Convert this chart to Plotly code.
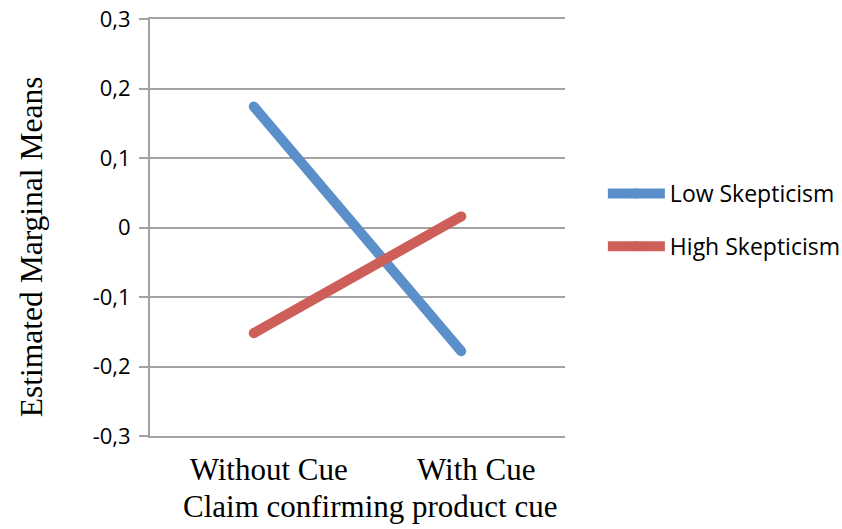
import plotly.graph_objects as go

# Interaction plot: estimated marginal means by cue condition and skepticism level
categories = ["Without Cue", "With Cue"]
low_skepticism = [0.174, -0.178]
high_skepticism = [-0.152, 0.016]
y_tick_vals = [-0.3, -0.2, -0.1, 0.0, 0.1, 0.2, 0.3]
y_tick_text = ["-0,3", "-0,2", "-0,1", "0", "0,1", "0,2", "0,3"]

BLUE = "#5B8FC9"
RED = "#CD5F58"
GRID = "#A3A3A3"
SANS = "Open Sans, Lato, sans-serif"
SERIF = "Liberation Serif, Times New Roman, serif"

fig = go.Figure()
fig.add_trace(go.Scatter(
    x=categories, y=low_skepticism, name="Low Skepticism",
    mode="lines+markers", legendgroup="low",
    line=dict(color=BLUE, width=10),
    marker=dict(color=BLUE, size=10),
))
fig.add_trace(go.Scatter(
    x=categories, y=high_skepticism, name="High Skepticism",
    mode="lines+markers", legendgroup="high",
    line=dict(color=RED, width=10),
    marker=dict(color=RED, size=10),
))

fig.update_layout(
    width=842, height=529, autosize=False,
    margin=dict(l=150, r=277, t=19, b=93, pad=0),
    plot_bgcolor="white", paper_bgcolor="white",
    showlegend=True,
    legend=dict(
        xref="container", yref="container",
        x=0.716, y=0.675, xanchor="left", yanchor="top",
        font=dict(family=SANS, size=23, color="black"),
        traceorder="grouped", tracegroupgap=20, itemwidth=57,
        bgcolor="rgba(0,0,0,0)", borderwidth=0,
    ),
    xaxis=dict(
        type="category", range=[-0.5, 1.5], automargin=False,
        showgrid=False, zeroline=False,
        showline=True, mirror=True, linecolor=GRID, linewidth=2,
        ticks="", ticklabelshift=15, ticklabelstandoff=5,
        tickfont=dict(family=SERIF, size=31, color="black"),
    ),
    yaxis=dict(
        range=[-0.3, 0.3], automargin=False,
        tickvals=y_tick_vals, ticktext=y_tick_text,
        showgrid=True, gridcolor=GRID, gridwidth=2,
        zeroline=False,
        showline=True, linecolor=GRID, linewidth=2,
        ticks="outside", ticklen=9, tickwidth=2, tickcolor=GRID,
        ticklabelstandoff=4,
        tickfont=dict(family=SANS, size=22, color="black"),
    ),
    annotations=[
        dict(text="Estimated Marginal Means", xref="paper", yref="paper",
             x=-0.287, y=0.455, textangle=-90, showarrow=False,
             xanchor="center", yanchor="middle",
             font=dict(family=SERIF, size=31.5, color="black")),
        dict(text="Claim confirming product cue", xref="paper", yref="paper",
             x=0.529, y=-0.168, showarrow=False,
             xanchor="center", yanchor="middle",
             font=dict(family=SERIF, size=31, color="black")),
    ],
)

fig.write_html("out.html")
